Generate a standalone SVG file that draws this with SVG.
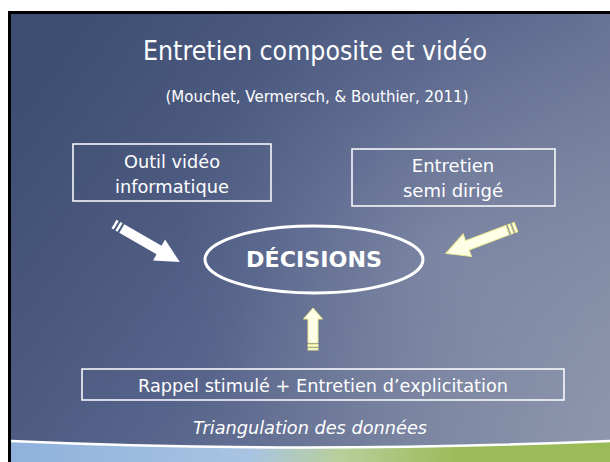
<svg xmlns="http://www.w3.org/2000/svg" width="610" height="462" viewBox="0 0 610 462">
<defs>
<linearGradient id="bg" gradientUnits="userSpaceOnUse" x1="60" y1="40" x2="600" y2="440">
<stop offset="0" stop-color="#3e4d72"/>
<stop offset="0.45" stop-color="#56638a"/>
<stop offset="1" stop-color="#8c95ab"/>
</linearGradient>
<radialGradient id="glow" gradientUnits="userSpaceOnUse" cx="440" cy="250" r="260">
<stop offset="0" stop-color="#ffffff" stop-opacity="0.13"/>
<stop offset="1" stop-color="#ffffff" stop-opacity="0"/>
</radialGradient>
<linearGradient id="band" gradientUnits="userSpaceOnUse" x1="11" y1="0" x2="610" y2="0">
<stop offset="0" stop-color="#8fb1dc"/>
<stop offset="0.4" stop-color="#a9c4e2"/>
<stop offset="0.55" stop-color="#b8cf9a"/>
<stop offset="0.75" stop-color="#9bbb59"/>
<stop offset="1" stop-color="#9bbb59"/>
</linearGradient>
<style>
.t{fill:#ffffff;font-family:"DejaVu Sans",Verdana,sans-serif;text-anchor:middle}
.box{fill:none;stroke:#ffffff;stroke-width:1.5}
.aw{fill:#ffffff}
.ay{fill:#ffffe8;stroke:#e8e890;stroke-width:1}
</style>
</defs>
<rect x="0" y="0" width="610" height="462" fill="#ffffff"/>
<rect x="8" y="11" width="602" height="451" fill="#000000"/>
<rect x="11" y="14" width="599" height="448" fill="url(#bg)"/>
<rect x="11" y="14" width="599" height="448" fill="url(#glow)"/>
<g id="band-bottom">
<path d="M11,441 Q300,454 610,441 L610,462 L11,462 Z" fill="url(#band)"/>
<path d="M11,441 Q300,454 610,441" fill="none" stroke="#ffffff" stroke-width="2.5"/>
</g>
<g id="title">
<text class="t" x="315" y="60" font-size="26" textLength="344" lengthAdjust="spacingAndGlyphs">Entretien composite et vidéo</text>
<text class="t" x="317" y="102" font-size="15" textLength="303" lengthAdjust="spacingAndGlyphs">(Mouchet, Vermersch, &amp; Bouthier, 2011)</text>
</g>
<g id="node-outil">
<rect class="box" x="73" y="144" width="198" height="57"/>
<text class="t" x="172" y="168" font-size="18" textLength="96" lengthAdjust="spacingAndGlyphs">Outil vidéo</text>
<text class="t" x="172" y="193" font-size="18" textLength="114" lengthAdjust="spacingAndGlyphs">informatique</text>
</g>
<g id="node-entretien">
<rect class="box" x="352" y="149" width="203" height="57"/>
<text class="t" x="453" y="172" font-size="18">Entretien</text>
<text class="t" x="453" y="197" font-size="18">semi dirigé</text>
</g>
<g id="node-decisions">
<ellipse cx="314" cy="259.5" rx="109" ry="33.5" fill="none" stroke="#ffffff" stroke-width="3"/>
<text class="t" x="314" y="267" font-size="22" font-weight="bold" textLength="136" lengthAdjust="spacingAndGlyphs">DÉCISIONS</text>
</g>
<g id="node-rappel">
<rect class="box" x="82" y="369" width="482" height="31"/>
<text class="t" x="323" y="392" font-size="18" textLength="370" lengthAdjust="spacingAndGlyphs">Rappel stimulé + Entretien d’explicitation</text>
</g>
<g id="caption">
<text class="t" x="310" y="434" font-size="18" font-style="italic" textLength="234" lengthAdjust="spacingAndGlyphs">Triangulation des données</text>
</g>
<g id="connectors">
<g transform="translate(114,224) rotate(30)">
<rect class="aw" x="0" y="-5" width="2.5" height="10"/>
<rect class="aw" x="4.5" y="-5" width="2.5" height="10"/>
<polygon class="aw" points="9,-5 52,-5 52,-12 76,0 52,12 52,5 9,5"/>
</g>
<g transform="translate(516,227) rotate(159.4)">
<rect class="ay" x="0" y="-5" width="2.5" height="10"/>
<rect class="ay" x="4.5" y="-5" width="2.5" height="10"/>
<polygon class="ay" points="9,-5 52,-5 52,-12 75,0 52,12 52,5 9,5"/>
</g>
<g transform="translate(313,350) rotate(-90)">
<rect class="ay" x="0" y="-5" width="2" height="10"/>
<rect class="ay" x="3.5" y="-5" width="2" height="10"/>
<polygon class="ay" points="7,-5 31,-5 31,-9.5 42,0 31,9.5 31,5 7,5"/>
</g>
</g>
</svg>
